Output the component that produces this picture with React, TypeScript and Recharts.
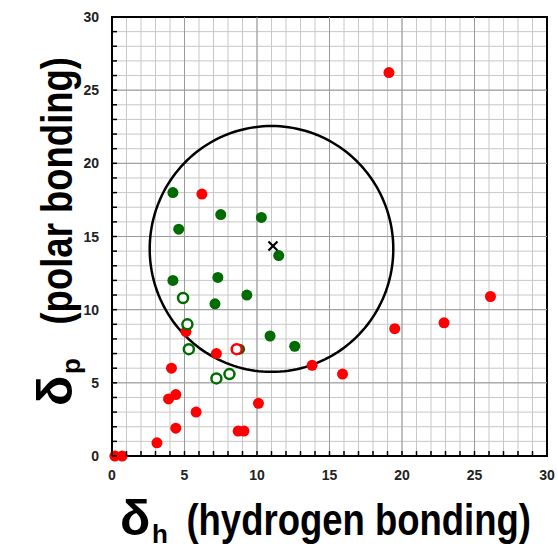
import React from 'react';
import { ScatterChart, Scatter, XAxis, YAxis, CartesianGrid, ReferenceLine, ReferenceArea } from 'recharts';

// Hansen plot: δh (hydrogen bonding) vs δp (polar bonding)
const majorTicks = [0, 5, 10, 15, 20, 25, 30];
const minorTicks = [0, 1, 2, 3, 4, 5, 6, 7, 8, 9, 10, 11, 12, 13, 14, 15, 16, 17, 18, 19, 20, 21, 22, 23, 24, 25, 26, 27, 28, 29, 30];

// [δh, δp] pairs
const redFilled = [
    [19.1, 26.2], [6.2, 17.9], [15.9, 5.6], [19.5, 8.7], [22.9, 9.1], [26.1, 10.9],
    [13.8, 6.2], [4.1, 6.0], [5.1, 8.5], [7.2, 7.0], [3.9, 3.9], [4.4, 4.2],
    [5.8, 3.0], [10.1, 3.6], [4.4, 1.9], [3.1, 0.9], [8.7, 1.7], [9.1, 1.7],
    [0.2, 0], [0.7, 0],
];
const greenFilled = [
    [4.2, 18.0], [7.5, 16.5], [10.3, 16.3], [4.6, 15.5], [11.5, 13.7], [4.2, 12.0],
    [7.3, 12.2], [9.3, 11.0], [7.1, 10.4], [10.9, 8.2], [12.6, 7.5], [8.8, 7.3],
];
const greenOpen = [[4.9, 10.8], [5.2, 9.0], [5.3, 7.3], [7.2, 5.3], [8.1, 5.6]];
const redOpen = [[8.6, 7.3]];
const sphereCenter = [11.1, 14.35];
const circleCenter = [11.0, 14.15];
const circleRadius = 8.4;

const toPts = (arr: number[][]) => arr.map(([h, p]) => ({ h, p }));

// outline of the solubility sphere, built from its centre and radius
const circlePts = Array.from({ length: 181 }, (_, i) => {
    const a = (i / 180) * Math.PI * 2;
    return { h: circleCenter[0] + circleRadius * Math.cos(a), p: circleCenter[1] + circleRadius * Math.sin(a) };
});

const RED = '#ff0000';
const GREEN = '#006b00';
const FONT = '"Liberation Sans", Arial, sans-serif';

const Dot = (color: string, open: boolean) => (props: any) => (
    <circle
        cx={props.cx}
        cy={props.cy}
        r={open ? 5 : 5.5}
        fill={open ? '#fff' : color}
        stroke={color}
        strokeWidth={open ? 2.5 : 0}
    />
);

const Cross = (props: any) => {
    const { cx, cy } = props;
    const s = 4.5;
    return (
        <g stroke="#000" strokeWidth={2.2}>
            <line x1={cx - s} y1={cy - s} x2={cx + s} y2={cy + s} />
            <line x1={cx - s} y1={cy + s} x2={cx + s} y2={cy - s} />
        </g>
    );
};

const YTick = (props: any) => {
    const { x, y, payload } = props;
    return (
        <g>
            <line x1={x} x2={x + 5} y1={y} y2={y} stroke="#000" strokeWidth={1.5} />
            {payload.value % 5 === 0 && (
                <text x={x - 13} y={y + 5} textAnchor="end" fontFamily={FONT} fontWeight="bold" fontSize={14} fill="#222">
                    {payload.value}
                </text>
            )}
        </g>
    );
};

const XTick = (props: any) => {
    const { x, y, payload } = props;
    return (
        <g>
            <line x1={x} x2={x} y1={y} y2={y - 5} stroke="#000" strokeWidth={1.5} />
            {payload.value % 5 === 0 && (
                <text x={x} y={y + 24} textAnchor="middle" fontFamily={FONT} fontWeight="bold" fontSize={14} fill="#222">
                    {payload.value}
                </text>
            )}
        </g>
    );
};

// axis title drawn along +u, baseline at v; glyphs are a bit taller than wide in the original
const AxisTitle = ({ symbol, sub, rest, start, end, base }: any) => (
    <g fontFamily={FONT} fontWeight="bold" fill="#000">
        <text x={start} y={base} fontSize={50}>{symbol}</text>
        <text x={start + 32} y={base + 8} fontSize={26}>{sub}</text>
        <g transform={`translate(0 ${base}) scale(1 1.22) translate(0 ${-base})`}>
            <text x={end} y={base} fontSize={36.5} textAnchor="end">{rest}</text>
        </g>
    </g>
);

const XTitle = () => <AxisTitle symbol="δ" sub="h" rest="(hydrogen bonding)" start={120} end={531} base={535} />;

const YTitle = () => (
    <g transform="rotate(-90)">
        <AxisTitle symbol="δ" sub="p" rest="(polar bonding)" start={-406} end={-57} base={72} />
    </g>
);

const App: React.FC = () => {
    return (
        <div style={{ position: 'absolute', left: 0, top: 0, width: 558, height: 550, background: '#fff' }}>
            <ScatterChart width={558} height={550} margin={{ top: 17, right: 11, bottom: 0, left: 0 }}>
                <CartesianGrid stroke="#c8c8c8" strokeWidth={1} />
                {majorTicks.slice(1, -1).map(t => (
                    <ReferenceLine key={'vx' + t} x={t} stroke="#9a9a9a" strokeWidth={1} />
                ))}
                {majorTicks.slice(1, -1).map(t => (
                    <ReferenceLine key={'hy' + t} y={t} stroke="#9a9a9a" strokeWidth={1} />
                ))}
                <XAxis
                    type="number"
                    dataKey="h"
                    domain={[0, 30]}
                    ticks={minorTicks}
                    interval={0}
                    height={94}
                    axisLine={false}
                    tickLine={false}
                    tickSize={0}
                    tickMargin={0}
                    tick={<XTick />}
                    label={<XTitle />}
                />
                <YAxis
                    type="number"
                    dataKey="p"
                    domain={[0, 30]}
                    ticks={minorTicks}
                    interval={0}
                    width={112}
                    axisLine={false}
                    tickLine={false}
                    tickSize={0}
                    tickMargin={0}
                    tick={<YTick />}
                    label={<YTitle />}
                />
                <ReferenceArea x1={0} x2={30} y1={0} y2={30} fill="none" fillOpacity={0} stroke="#000" strokeWidth={2} />
                <Scatter
                    data={circlePts}
                    line={{ stroke: '#000', strokeWidth: 2.5 }}
                    lineJointType="linear"
                    shape={() => <g />}
                    isAnimationActive={false}
                />
                <Scatter data={toPts(greenFilled)} shape={Dot(GREEN, false)} isAnimationActive={false} />
                <Scatter data={toPts(redFilled)} shape={Dot(RED, false)} isAnimationActive={false} />
                <Scatter data={toPts(greenOpen)} shape={Dot(GREEN, true)} isAnimationActive={false} />
                <Scatter data={toPts(redOpen)} shape={Dot(RED, true)} isAnimationActive={false} />
                <Scatter data={toPts([sphereCenter])} shape={Cross} isAnimationActive={false} />
            </ScatterChart>
        </div>
    );
};

export default App;
